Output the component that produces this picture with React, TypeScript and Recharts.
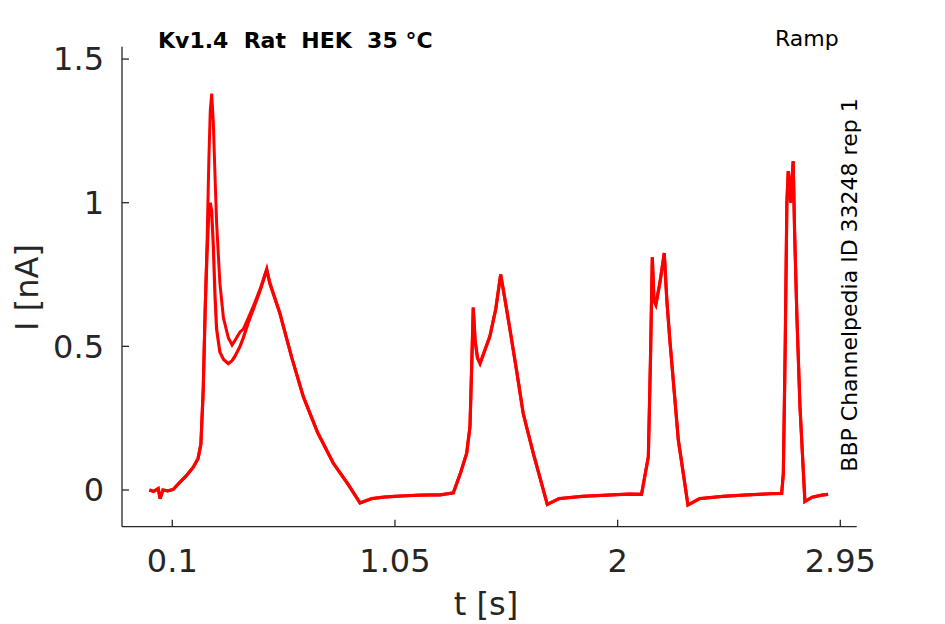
import React from "react";
import { Line, LineChart, XAxis, YAxis } from "recharts";

// time in s, current in nA (two sweeps, they differ only on the first burst)
const TIME = [
  0.002, 0.02, 0.04, 0.048, 0.06, 0.08, 0.104, 0.13, 0.16, 0.19, 0.21, 0.222, 0.232, 0.24,
  0.248, 0.256, 0.262, 0.268, 0.275, 0.282, 0.289, 0.303, 0.318, 0.339, 0.355, 0.367, 0.389,
  0.403, 0.425, 0.446, 0.475, 0.503, 0.515, 0.559, 0.61, 0.659, 0.72, 0.787, 0.85, 0.901,
  0.95, 1.0, 1.05, 1.1, 1.15, 1.2, 1.242, 1.299, 1.33, 1.356, 1.37, 1.378, 1.384, 1.392,
  1.402, 1.413, 1.435, 1.455, 1.48, 1.501, 1.52, 1.541, 1.57, 1.597, 1.64, 1.7, 1.75, 1.85,
  1.95, 2.05, 2.102, 2.131, 2.14, 2.148, 2.155, 2.163, 2.18, 2.199, 2.21, 2.223, 2.259, 2.3,
  2.35, 2.45, 2.55, 2.65, 2.7, 2.707, 2.715, 2.722, 2.728, 2.734, 2.738, 2.744, 2.749, 2.755,
  2.765, 2.778, 2.799, 2.83, 2.87, 2.898,
];

const SWEEP_HIGH = [
  0.0, -0.005, 0.005, -0.03, 0.0, -0.003, 0.002, 0.025, 0.05, 0.08, 0.11, 0.16, 0.35, 0.62,
  0.85, 1.15, 1.32, 1.38, 1.28, 1.1, 0.93, 0.72, 0.6, 0.53, 0.505, 0.52, 0.55,
  0.56, 0.6, 0.64, 0.7, 0.77, 0.72, 0.615, 0.46, 0.325, 0.2, 0.093, 0.02, -0.045,
  -0.03, -0.025, -0.022, -0.02, -0.018, -0.017, -0.017, -0.01, 0.06, 0.128, 0.22, 0.45, 0.635, 0.52,
  0.46, 0.44, 0.49, 0.535, 0.63, 0.75, 0.66, 0.557, 0.41, 0.267, 0.128, -0.05, -0.03, -0.022,
  -0.018, -0.014, -0.015, 0.116, 0.45, 0.81, 0.66, 0.645, 0.72, 0.825, 0.66, 0.52, 0.174, -0.052,
  -0.03, -0.022, -0.017, -0.013, -0.012, 0.058, 0.5, 1.0, 1.11, 1.06, 1.0, 1.08, 1.145, 0.9,
  0.6, 0.29, -0.04, -0.025, -0.018, -0.015,
];

const SWEEP_LOW = [
  0.0, -0.005, 0.005, -0.03, 0.0, -0.003, 0.002, 0.025, 0.05, 0.08, 0.11, 0.16, 0.35, 0.62,
  0.82, 0.97, 1.0, 0.97, 0.85, 0.68, 0.56, 0.48, 0.455, 0.44, 0.45, 0.465, 0.5,
  0.53, 0.585, 0.63, 0.695, 0.765, 0.725, 0.615, 0.46, 0.325, 0.2, 0.093, 0.02, -0.045,
  -0.03, -0.025, -0.022, -0.02, -0.018, -0.017, -0.017, -0.01, 0.06, 0.128, 0.22, 0.45, 0.635, 0.52,
  0.46, 0.44, 0.49, 0.535, 0.63, 0.75, 0.66, 0.557, 0.41, 0.267, 0.128, -0.05, -0.03, -0.022,
  -0.018, -0.014, -0.015, 0.116, 0.45, 0.81, 0.66, 0.645, 0.72, 0.825, 0.66, 0.52, 0.174, -0.052,
  -0.03, -0.022, -0.017, -0.013, -0.012, 0.058, 0.5, 1.0, 1.11, 1.06, 1.0, 1.08, 1.145, 0.9,
  0.6, 0.29, -0.04, -0.025, -0.018, -0.015,
];

const X_TICKS = [0.1, 1.05, 2, 2.95];
const Y_TICKS = [0, 0.5, 1, 1.5];

const FONT = "'DejaVu Sans', sans-serif";
const INK = "#262626";
const TICK = { fontSize: 32, fill: INK, fontFamily: FONT } as const;

const data = TIME.map((t, i) => ({ t, hi: SWEEP_HIGH[i], lo: SWEEP_LOW[i] }));

export default function App() {
  return (
    <div style={{ position: "absolute", left: 0, top: 0, width: 945, height: 624, background: "#fff" }}>
      <LineChart
        width={945}
        height={624}
        data={data}
        margin={{ top: 46.7, right: 88.3, bottom: 37.3, left: 42 }}
      >
        <XAxis
          type="number"
          dataKey="t"
          domain={[-0.1146, 3.02]}
          ticks={X_TICKS}
          allowDataOverflow
          height={60}
          tickSize={-7}
          tickMargin={30}
          stroke={INK}
          strokeWidth={1.3}
          tick={TICK}
          tickFormatter={(v) => String(v)}
        />
        <YAxis
          type="number"
          domain={[-0.1277, 1.543]}
          ticks={Y_TICKS}
          allowDataOverflow
          width={80}
          tickSize={-7}
          tickMargin={25}
          stroke={INK}
          strokeWidth={1.3}
          tick={TICK}
          tickFormatter={(v) => String(v)}
        />
        <Line type="linear" dataKey="lo" stroke="#ff0000" strokeWidth={3.2} dot={false} isAnimationActive={false} />
        <Line type="linear" dataKey="hi" stroke="#ff0000" strokeWidth={3} dot={false} isAnimationActive={false} />
      </LineChart>
      <svg
        width={945}
        height={624}
        style={{ position: "absolute", left: 0, top: 0, pointerEvents: "none", fontFamily: FONT }}
      >
        <text x={158} y={47.5} fontSize={22} fontWeight="bold" fill="#000" style={{ whiteSpace: "pre" }}>
          {"Kv1.4  Rat  HEK  35 °C"}
        </text>
        <text x={775} y={46} fontSize={22} fill="#000">Ramp</text>
        <text
          x={0}
          y={0}
          fontSize={22}
          fill="#000"
          textAnchor="middle"
          transform="translate(857 285) rotate(-90)"
        >
          BBP Channelpedia ID 33248 rep 1
        </text>
        <text x={486} y={615} fontSize={32} fill={INK} textAnchor="middle">t [s]</text>
        <text
          x={0}
          y={0}
          fontSize={32}
          fill={INK}
          textAnchor="middle"
          transform="translate(37.5 287.5) rotate(-90)"
        >
          I [nA]
        </text>
      </svg>
    </div>
  );
}
